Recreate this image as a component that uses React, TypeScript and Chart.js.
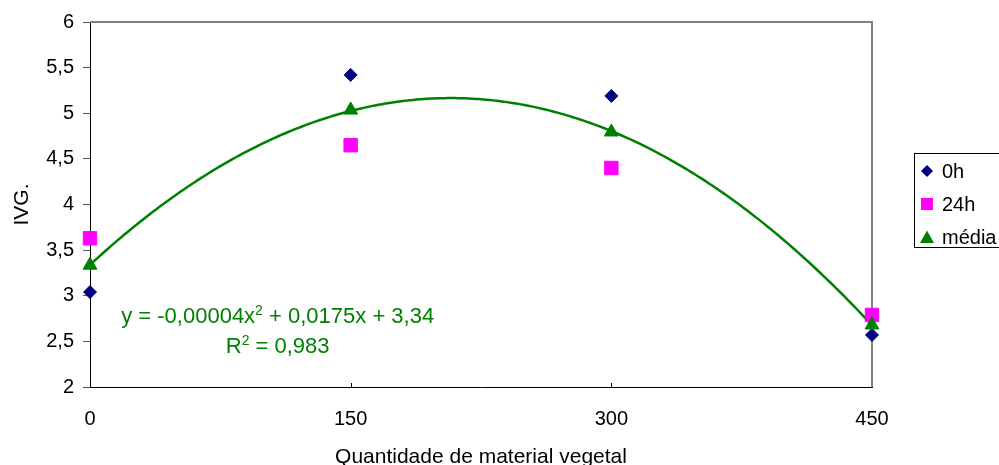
import React, { useEffect, useRef } from 'react';
import { Chart, registerables } from 'chart.js';

Chart.register(...registerables);

// ---- data ----
const xValues = [0, 150, 300, 450];
const series0h = [3.04, 5.42, 5.19, 2.57];
const series24h = [3.63, 4.65, 4.4, 2.79];
const seriesMedia = [3.335, 5.035, 4.795, 2.68];
const seriesNames = ['0h', '24h', 'média'];
const xTickValues = [0, 150, 300, 450];
const yMin = 2;
const yMax = 6;
const yStep = 0.5;
const xTitle = 'Quantidade de material vegetal';
const yTitle = 'IVG.';
const eqLine1 = ['y = -0,00004x', '2', ' + 0,0175x + 3,34'];
const eqLine2 = ['R', '2', ' = 0,983'];
// equation anchor in data coordinates (centre x, baselines y)
const eqAnchorX = 108;
const eqAnchorY1 = 2.7;
const eqAnchorY2 = 2.37;

const FONT = '"Liberation Sans", Arial, sans-serif';
const NAVY = '#000080';
const MAGENTA = '#FF00FF';
const GREEN = '#008000';

function fitQuadratic(xs: number[], ys: number[]) {
  let s0 = 0, s1 = 0, s2 = 0, s3 = 0, s4 = 0, t0 = 0, t1 = 0, t2 = 0;
  for (let i = 0; i < xs.length; i++) {
    const x = xs[i], y = ys[i];
    s0 += 1; s1 += x; s2 += x * x; s3 += x * x * x; s4 += x * x * x * x;
    t0 += y; t1 += x * y; t2 += x * x * y;
  }
  const m = [
    [s4, s3, s2, t2],
    [s3, s2, s1, t1],
    [s2, s1, s0, t0],
  ];
  for (let c = 0; c < 3; c++) {
    for (let r = c + 1; r < 3; r++) {
      const f = m[r][c] / m[c][c];
      for (let k = c; k < 4; k++) m[r][k] -= f * m[c][k];
    }
  }
  const sol = [0, 0, 0];
  for (let r = 2; r >= 0; r--) {
    let v = m[r][3];
    for (let k = r + 1; k < 3; k++) v -= m[r][k] * sol[k];
    sol[r] = v / m[r][r];
  }
  return sol; // a, b, c
}

function drawMarker(ctx: CanvasRenderingContext2D, style: string, x: number, y: number, color: string) {
  ctx.fillStyle = color;
  ctx.beginPath();
  if (style === 'diamond') {
    const r = 6;
    ctx.moveTo(x, y - r); ctx.lineTo(x + r, y); ctx.lineTo(x, y + r); ctx.lineTo(x - r, y);
  } else if (style === 'square') {
    ctx.rect(x - 6, y - 6, 12, 12);
  } else {
    ctx.moveTo(x, y - 6.5); ctx.lineTo(x + 7, y + 6); ctx.lineTo(x - 7, y + 6);
  }
  ctx.closePath();
  ctx.fill();
}

const trendPlugin = {
  id: 'trendAndFrame',
  beforeDatasetsDraw(chart: any) {
    const { ctx, chartArea, scales } = chart;
    const xs = scales.x, ys = scales.y;
    ctx.save();
    // top and right frame
    ctx.strokeStyle = '#808080';
    ctx.lineWidth = 2;
    ctx.beginPath();
    ctx.moveTo(chartArea.left, chartArea.top);
    ctx.lineTo(chartArea.right, chartArea.top);
    ctx.lineTo(chartArea.right, chartArea.bottom);
    ctx.stroke();
    // inner x ticks
    ctx.strokeStyle = '#000';
    ctx.lineWidth = 1;
    for (const v of xTickValues) {
      if (v === xs.min || v === xs.max) continue;
      const px = Math.round(xs.getPixelForValue(v)) + 0.5;
      ctx.beginPath();
      ctx.moveTo(px, chartArea.bottom);
      ctx.lineTo(px, chartArea.bottom - 4);
      ctx.stroke();
    }
    // polynomial trend line fitted to média
    const [a, b, c] = fitQuadratic(xValues, seriesMedia);
    ctx.strokeStyle = GREEN;
    ctx.lineWidth = 2.5;
    ctx.beginPath();
    const x0 = xValues[0], x1 = xValues[xValues.length - 1];
    for (let x = x0; x <= x1 + 1e-9; x += 2) {
      const y = a * x * x + b * x + c;
      const px = xs.getPixelForValue(x), py = ys.getPixelForValue(y);
      if (x === x0) ctx.moveTo(px, py); else ctx.lineTo(px, py);
    }
    ctx.stroke();
    ctx.restore();
  },
  afterDraw(chart: any) {
    const { ctx, chartArea, scales } = chart;
    const xs = scales.x, ys = scales.y;
    ctx.save();
    // equation
    const big = `22px ${FONT}`;
    const small = `14px ${FONT}`;
    const drawEq = (parts: string[], cy: number) => {
      ctx.font = big;
      const w0 = ctx.measureText(parts[0]).width;
      const w2 = ctx.measureText(parts[2]).width;
      ctx.font = small;
      const w1 = ctx.measureText(parts[1]).width;
      const total = w0 + w1 + w2;
      let x = xs.getPixelForValue(eqAnchorX) - total / 2;
      ctx.fillStyle = GREEN;
      ctx.textBaseline = 'alphabetic';
      ctx.textAlign = 'left';
      ctx.font = big;
      ctx.fillText(parts[0], x, cy);
      x += w0;
      ctx.font = small;
      ctx.fillText(parts[1], x, cy - 8);
      x += w1;
      ctx.font = big;
      ctx.fillText(parts[2], x, cy);
    };
    drawEq(eqLine1, ys.getPixelForValue(eqAnchorY1));
    drawEq(eqLine2, ys.getPixelForValue(eqAnchorY2));

    // legend
    const bx = chartArea.right + 42;
    const by = 153;
    ctx.strokeStyle = '#000';
    ctx.lineWidth = 1;
    ctx.strokeRect(bx + 0.5, by + 0.5, 120, 94);
    const styles = ['diamond', 'square', 'triangle'];
    const colors = [NAVY, MAGENTA, GREEN];
    ctx.font = `20px ${FONT}`;
    ctx.textBaseline = 'middle';
    ctx.textAlign = 'left';
    for (let i = 0; i < 3; i++) {
      const cy = by + 18 + i * 33;
      drawMarker(ctx, styles[i], bx + 13, cy, colors[i]);
      ctx.fillStyle = '#000';
      ctx.fillText(seriesNames[i], bx + 28, cy + 1);
    }
    ctx.restore();
  },
};

export default function App() {
  const ref = useRef<HTMLCanvasElement | null>(null);
  useEffect(() => {
    if (!ref.current) return;
    const mk = (data: number[]) => xValues.map((x, i) => ({ x, y: data[i] }));
    const chart = new Chart(ref.current, {
      type: 'scatter',
      data: {
        datasets: [
          {
            label: seriesNames[0], data: mk(series0h), pointStyle: 'rectRot', pointRadius: 6.5,
            backgroundColor: NAVY, borderColor: NAVY, pointBorderWidth: 1, order: 3, clip: false,
          },
          {
            label: seriesNames[1], data: mk(series24h), pointStyle: 'rect', pointRadius: 9.5,
            backgroundColor: MAGENTA, borderColor: MAGENTA, pointBorderWidth: 1, order: 2, clip: false,
          },
          {
            label: seriesNames[2], data: mk(seriesMedia), pointStyle: 'triangle', pointRadius: 8,
            backgroundColor: GREEN, borderColor: GREEN, pointBorderWidth: 1, order: 1, clip: false,
          },
        ],
      },
      options: {
        responsive: false,
        animation: false,
        events: [],
        layout: { padding: { top: 22, right: 127, bottom: 0, left: 0 } },
        plugins: { legend: { display: false }, tooltip: { enabled: false } },
        scales: {
          x: {
            type: 'linear', min: 0, max: 450,
            afterBuildTicks: (s: any) => { s.ticks = xTickValues.map((v) => ({ value: v })); },
            afterFit: (s: any) => { s.height = 78; },
            ticks: { font: { family: FONT, size: 20 }, color: '#000', padding: 12, maxRotation: 0, autoSkip: false },
            grid: { display: false },
            border: { display: true, color: '#000', width: 1 },
            title: {
              display: true, text: xTitle, color: '#000',
              font: { family: FONT, size: 21, lineHeight: 1 }, padding: { top: 0, bottom: -3 },
            },
          },
          y: {
            type: 'linear', min: yMin, max: yMax,
            afterFit: (s: any) => { s.width = 90; },
            ticks: {
              stepSize: yStep, font: { family: FONT, size: 20 }, color: '#000', padding: 9,
              callback: (v: any) => String(v).replace('.', ','),
            },
            grid: { drawOnChartArea: false, drawTicks: true, tickLength: 7, color: '#555' },
            border: { display: true, color: '#000', width: 1 },
            title: {
              display: true, text: yTitle, color: '#000',
              font: { family: FONT, size: 21, lineHeight: 1 }, padding: { top: 12, bottom: 0 },
            },
          },
        },
      },
      plugins: [trendPlugin],
    } as any);
    return () => chart.destroy();
  }, []);
  return (
    <canvas
      ref={ref}
      width={999}
      height={465}
      style={{ position: 'fixed', left: 0, top: 0, width: 999, height: 465, display: 'block' }}
    />
  );
}
